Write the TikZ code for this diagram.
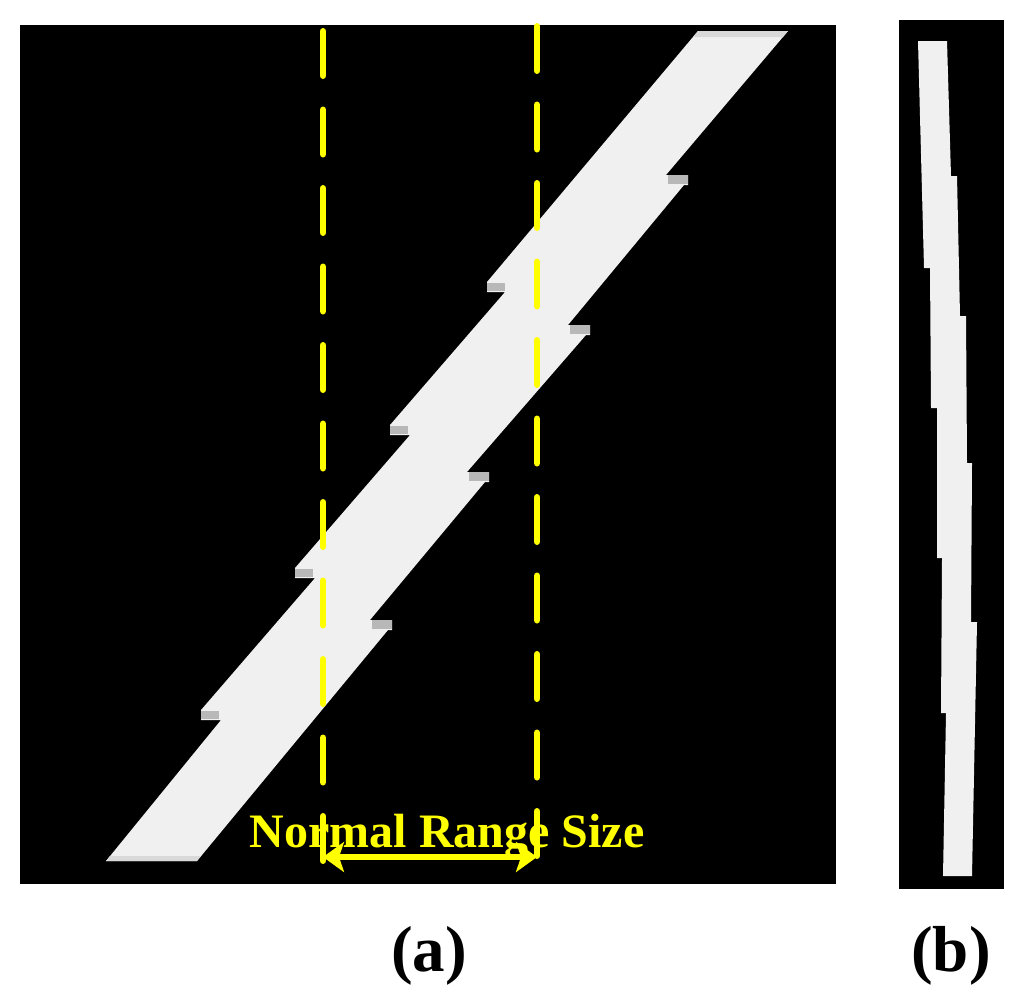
\documentclass[tikz,border=0pt]{standalone}
\usepackage{fontspec}
\setmainfont{Liberation Serif}
\usetikzlibrary{arrows.meta}
\definecolor{slabgray}{HTML}{F0F0F0}
\definecolor{marker}{HTML}{FFFF00}

\begin{document}
\begin{tikzpicture}[
        x=1pt, y=-1pt,
        panel/.style={fill=black},
        slab/.style={fill=slabgray},
        tab/.style={fill=black!28},
        rim/.style={fill=black!15},
        rangeline/.style={draw=marker, line width=6.5pt, line cap=round, dash pattern=on 44.5pt off 34pt},
        rangearrow/.style={draw=marker, line width=5.5pt, {Stealth[length=21pt,width=30pt,inset=5pt]}-{Stealth[length=21pt,width=30pt,inset=5pt]}},
        rangetext/.style={text=marker, font=\bfseries\fontsize{48}{48}\selectfont, anchor=base, inner sep=0pt},
        caption/.style={font=\bfseries\fontsize{65}{65}\selectfont, anchor=base, inner sep=0pt},
    ]
    \useasboundingbox (0,0) rectangle (1024,1004);

    % (a)
    \fill[panel] (20,25) rectangle (836,884);
    \fill[slab] (698,31) -- (788,31) -- (666,175) -- (688,175) -- (688,185) -- (684,185)
        -- (568,325) -- (590,325) -- (590,335) -- (586,335)
        -- (467,472) -- (489,472) -- (489,482) -- (485,482)
        -- (370,620) -- (392,620) -- (392,630) -- (388,630)
        -- (197,861) -- (106,861)
        -- (221,720) -- (201,720) -- (201,710)
        -- (315,578) -- (295,578) -- (295,568)
        -- (410,435) -- (390,435) -- (390,425)
        -- (505,292) -- (487,292) -- (487,282) -- cycle;
    \fill[rim] (698,31) -- (788,31) -- (783,37) -- (693,37) -- cycle;
    \fill[rim] (106,861) -- (197,861) -- (201,856) -- (110,856) -- cycle;
    \foreach \x/\y in {487/287, 390/430, 295/573, 201/715}
        \fill[tab] (\x,\y-4) rectangle (\x+18,\y+4);
    \foreach \x/\y in {688/180, 590/330, 489/477, 392/625}
        \fill[tab] (\x-20,\y-5) rectangle (\x,\y+4);

    \coordinate (ltop) at (323,31.25);
    \coordinate (lbot) at (323,860.75);
    \coordinate (rtop) at (537,26.25);
    \coordinate (rbot) at (537,855.75);
    \draw[rangeline] (ltop) -- (lbot);
    \draw[rangeline] (rtop) -- (rbot);

    \node[rangetext] (range) at (447,847) {Normal Range Size};
    \coordinate (arrowL) at (323,857);
    \coordinate (arrowR) at (537,857);
    \draw[rangearrow] (arrowL) -- (arrowR);

    % (b)
    \fill[panel] (899,20) rectangle (1004,889);
    \fill[slab] (918,41) -- (947,41) -- (951,176) -- (957,176) -- (960,316) -- (966,316)
        -- (967,463) -- (972,463) -- (971,622) -- (977,622) -- (972,876) -- (943,876)
        -- (946,713) -- (941,713) -- (942,558) -- (937,558) -- (937,408) -- (931,408)
        -- (930,268) -- (924,268) -- cycle;

    \node[caption] (capa) at (429,971) {(a)};
    \node[caption] (capb) at (951,971) {(b)};
\end{tikzpicture}
\end{document}
